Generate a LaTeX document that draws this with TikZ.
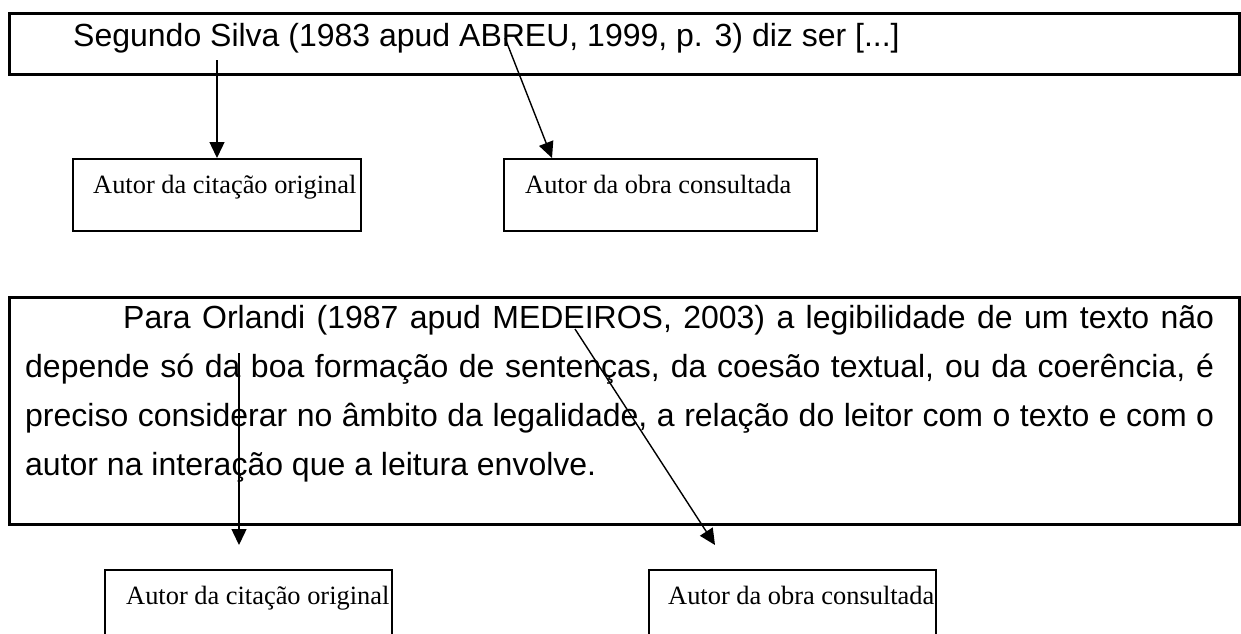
\documentclass[tikz,border=0pt]{standalone}
\usepackage{fontspec}
\setmainfont{Liberation Serif}
\setsansfont{Liberation Sans}
\usetikzlibrary{arrows.meta}

\begin{document}
\begin{tikzpicture}[x=1pt,y=-1pt,
    caixa/.style={draw,line width=2.5pt,anchor=north west,inner sep=0pt},
    autor/.style={draw,line width=2pt,anchor=north west,inner sep=0pt,
      minimum height=72},
    rotulo/.style={anchor=base west,inner sep=0pt,
      font=\fontsize{26.4}{30}\selectfont},
    texto/.style={anchor=base west,inner sep=0pt,
      font=\sffamily\fontsize{32}{49}\selectfont},
    seta/.style={-{Triangle[length=16pt,width=15pt]},line width=1.4pt}]
  \useasboundingbox (0,0) rectangle (1241,633);
  \clip (0,0) rectangle (1241,633);
  % primeiro exemplo
  \node (cit1) at (8,12) [caixa,minimum width=1230,minimum height=61] {};
  \node (txt1) at (73,46) [texto]
    {Segundo Silva (1983 apud ABREU, 1999, p. 3) diz ser [...]};
  \node (orig1) at (72,158) [autor,minimum width=288] {};
  \node (cons1) at (503,158) [autor,minimum width=313] {};
  \node (rot1) at (93,193) [rotulo] {Autor da citação original};
  \node (rot2) at (525,193) [rotulo] {Autor da obra consultada};
  \coordinate (s1) at (217,60);
  \coordinate (s2) at (505,38);
  \draw[seta] (s1) -- (s1 |- orig1.north);
  \draw[seta] (s2) -- ([xshift=49pt]cons1.north west);
  % segundo exemplo
  \node (cit2) at (8,296) [caixa,minimum width=1230,minimum height=227] {};
  \node (txt2) at (25,328) [texto,text width=1189pt,align=justify]
    {\hspace*{98pt}Para Orlandi (1987 apud MEDEIROS, 2003) a legibilidade de um texto não\linebreak
     depende só da boa formação de sentenças, da coesão textual, ou da coerência, é\linebreak
     preciso considerar no âmbito da legalidade, a relação do leitor com o texto e com o\linebreak
     autor na interação que a leitura envolve.};
  \node (orig2) at (104,569) [autor,minimum width=287,minimum height=100] {};
  \node (cons2) at (648,569) [autor,minimum width=287,minimum height=100] {};
  \node (rot3) at (126,604) [rotulo] {Autor da citação original};
  \node (rot4) at (668,604) [rotulo] {Autor da obra consultada};
  \coordinate (s3) at (239,353);
  \coordinate (s4) at (575,329);
  \draw[seta] (s3) -- (s3 |- 0,545);
  \draw[seta] (s4) -- (715,545);
\end{tikzpicture}
\end{document}
